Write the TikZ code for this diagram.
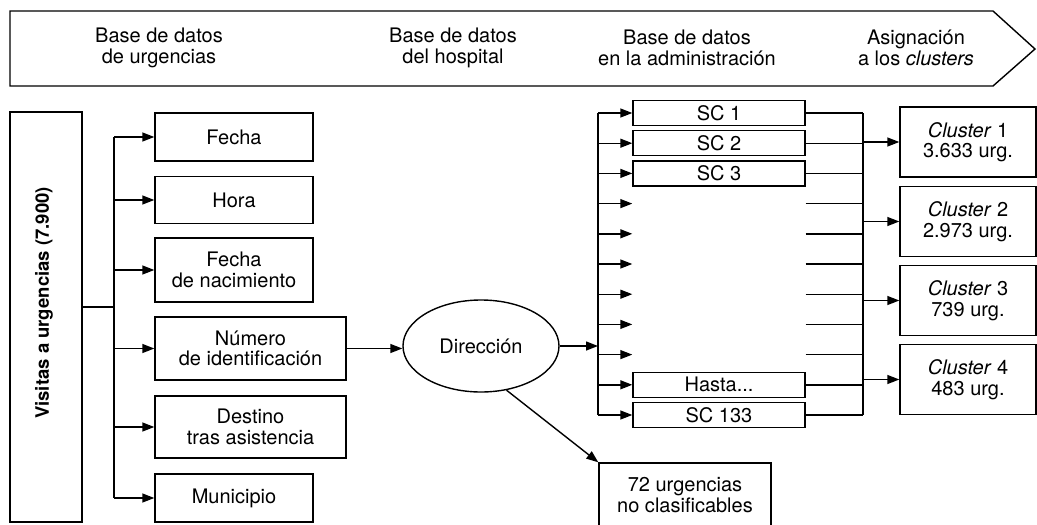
\documentclass[tikz,border=0pt]{standalone}
\usepackage{fontspec}
\setmainfont{TeX Gyre Heros}
\usetikzlibrary{arrows.meta,shapes.geometric}

\begin{document}
\begin{tikzpicture}[x=1pt,y=-1pt,line width=1.4pt,>={Triangle[length=12pt,width=9pt]}]
    % `stage' is used for the headings inside the top arrow.
    % `field' is used for the boxes of the emergency database.
    % `section' is used for the census sections (SC), `gap' for the empty rows.
    % `group' is used for the cluster boxes.
    \tikzstyle{txt} = [font=\fontsize{20}{20.5}\selectfont,align=center]
    \tikzstyle{stage} = [txt]
    \tikzstyle{field} = [txt,draw,inner sep=0pt,minimum width=158pt]
    \tikzstyle{section} = [txt,draw,inner sep=0pt,minimum width=172pt,minimum height=25pt]
    \tikzstyle{gap} = [inner sep=0pt,minimum width=172pt,minimum height=25pt]
    \tikzstyle{group} = [txt,draw,inner sep=0pt,minimum width=136pt,minimum height=70pt]
    \tikzstyle{trunk} = [line width=2.2pt]
    %
    \clip (0,0) rectangle (1037,525);
    % Top arrow with the stages.
    \draw (10,11) -- (993,11) -- (1035,49) -- (993,86) -- (10,86) -- cycle;
    \node[stage] (st1) at (159,48) {Base de datos\\de urgencias};
    \node[stage] (st2) at (453,48) {Base de datos\\del hospital};
    \node[stage] (st3) at (687,48) {Base de datos\\en la administración};
    \node[stage] (st4) at (916,48) {Asignación\\a los \textit{clusters}};
    %
    % Emergency visits and their fields.
    \node[draw,minimum width=72pt,minimum height=410pt] (visitas) at (46,317) {};
    \node[rotate=90,font=\fontsize{18.5}{20}\selectfont\bfseries] (visitastxt) at (44,303) {Visitas a urgencias (7.900)};
    \node[field,minimum height=48pt] (fecha) at (234,137) {Fecha};
    \node[field,minimum height=47pt] (hora) at (234,200) {Hora};
    \node[field,minimum height=64pt] (nacim) at (234,270) {Fecha\\de nacimiento};
    \node[field,minimum width=191pt,minimum height=63pt] (numero) at (250.5,348.5) {Número\\de identificación};
    \node[field,minimum width=191pt,minimum height=62pt] (destino) at (250.5,427) {Destino\\tras asistencia};
    \node[field,minimum height=48pt] (municipio) at (234,498) {Municipio};
    \coordinate (j0) at (114,307);
    \draw[trunk] (visitas.east |- j0) -- (j0);
    \draw[trunk] (fecha.west -| j0) -- (municipio.west -| j0);
    \foreach \f in {fecha,hora,nacim,numero,destino,municipio}
      \draw[->] (\f.west -| j0) -- (\f.west);
    %
    % Address matching.
    \node[txt,draw,ellipse,inner sep=0pt,minimum width=156pt,minimum height=92pt] (direccion) at (481,346) {Dirección};
    \draw[->] (numero.east) -- (numero.east -| direccion.west);
    \node[txt,draw,minimum width=172pt,minimum height=64pt] (noclas) at (685,495) {72 urgencias\\no clasificables};
    \draw[->] (direccion.-60) -- (noclas.north west);
    %
    % Census sections.
    \foreach \i/\t/\s in {1/SC 1/section,2/SC 2/section,3/SC 3/section,4//gap,5//gap,6//gap,7//gap,8//gap,9//gap,10/{Hasta...}/section,11/SC 133/section}
      \node[\s] (sc\i) at (719,{113+30.2*(\i-1)}) {\t};
    \coordinate (sctop) at (598,113);
    \coordinate (rtop) at (863,113);
    \draw[trunk] (sctop) -- (sc11.west -| sctop);
    \draw (rtop) -- (sc11.east -| rtop);
    \draw[->] (direccion.east) -- (direccion.east -| sctop);
    \foreach \i in {1,...,11} {
      \draw[->] (sc\i.west -| sctop) -- (sc\i.west);
      \draw (sc\i.east) -- (sc\i.east -| rtop);
    }
    %
    % Clusters.
    \node[group] (cl1) at (968,142) {\textit{Cluster} 1\\3.633 urg.};
    \node[group] (cl2) at (968,221.5) {\textit{Cluster} 2\\2.973 urg.};
    \node[group] (cl3) at (968,300.5) {\textit{Cluster} 3\\739 urg.};
    \node[group] (cl4) at (968,379.5) {\textit{Cluster} 4\\483 urg.};
    \foreach \c in {cl1,cl2,cl3,cl4}
      \draw[->] (\c.west -| rtop) -- (\c.west);
\end{tikzpicture}
\end{document}
